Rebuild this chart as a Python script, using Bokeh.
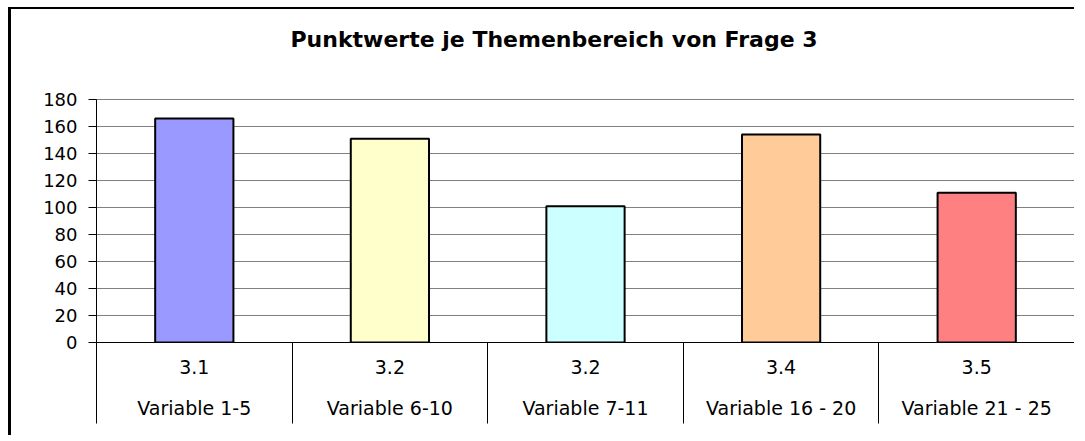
import numpy as np
from bokeh.plotting import figure
from bokeh.models import Range1d, LinearAxis, FixedTicker, ColumnDataSource, Title
from bokeh.embed import file_html
from bokeh.resources import INLINE

title_text = "Punktwerte je Themenbereich von Frage 3"
codes = ["3.1", "3.2", "3.2", "3.4", "3.5"]
variables = ["Variable 1-5", "Variable 6-10", "Variable 7-11", "Variable 16 - 20", "Variable 21 - 25"]
values = [166, 151, 101, 154, 111]
colors = ["#9999FF", "#FFFFCC", "#CCFFFF", "#FFCC99", "#FF8080"]
y_ticks = [0, 20, 40, 60, 80, 100, 120, 140, 160, 180]

n = len(values)
centers = [int(c) for c in np.arange(1, n + 1)]
bounds = [float(b) for b in np.arange(n + 1) + 0.5]
src = ColumnDataSource(dict(x=centers, top=values, color=colors))

FONT = "DejaVu Sans"

p = figure(width=1066, height=428, output_backend="svg", toolbar_location=None,
           x_range=Range1d(0.5, n + 0.5), y_range=Range1d(0, 180),
           x_axis_type=None,
           min_border_left=85, min_border_right=3, min_border_top=90, min_border_bottom=95)
p.background_fill_color = "white"
p.border_fill_color = "white"
p.outline_line_color = "#808080"
p.outline_line_width = 1
p.styles = {"border-left": "3px solid black", "border-top": "2px solid black",
            "margin-left": "8px", "margin-top": "7px"}

# invisible spacer between title and plot area (added first: nearest the plot)
mid = centers[len(centers) // 2]
spacer = LinearAxis(ticker=FixedTicker(ticks=[mid]), major_label_overrides={mid: ""})
spacer.axis_line_color = None
spacer.major_tick_line_color = "white"
spacer.major_tick_line_alpha = 0.01
spacer.minor_tick_line_color = None
spacer.major_tick_out = 43
spacer.major_tick_in = 0
spacer.minor_tick_out = 0
spacer.minor_tick_in = 0
spacer.major_label_standoff = 0
spacer.major_label_text_font_size = "0px"
p.add_layout(spacer, "above")

# title
title = Title(text=title_text, text_font=FONT, text_font_size="22px",
              text_font_style="bold", text_color="black",
              align="left", offset=194, standoff=10)
p.add_layout(title, "above")

# y axis
ya = p.yaxis[0]
ya.ticker = FixedTicker(ticks=y_ticks)
ya.axis_line_color = "black"
ya.axis_line_width = 1
ya.major_tick_line_color = "black"
ya.major_tick_out = 8
ya.major_tick_in = 0
ya.minor_tick_line_color = None
ya.major_label_standoff = 11
ya.major_label_text_font = FONT
ya.major_label_text_font_size = "18px"
ya.major_label_text_color = "black"

p.ygrid[0].grid_line_color = "#808080"
p.ygrid[0].grid_line_width = 1

# category table axes
ax1 = LinearAxis(ticker=FixedTicker(ticks=centers, minor_ticks=bounds),
                 major_label_overrides={c: t for c, t in zip(centers, codes)})
ax1.axis_line_color = "black"
ax1.major_tick_line_color = None
ax1.major_tick_out = 0
ax1.major_tick_in = 0
ax1.minor_tick_line_color = "black"
ax1.minor_tick_out = 81
ax1.minor_tick_in = 0
ax1.major_label_standoff = -64
ax1.major_label_text_font = FONT
ax1.major_label_text_font_size = "19px"
ax1.major_label_text_color = "black"

ax2 = LinearAxis(ticker=FixedTicker(ticks=centers),
                 major_label_overrides={c: v for c, v in zip(centers, variables)})
ax2.axis_line_color = None
ax2.major_tick_line_color = None
ax2.major_tick_out = 0
ax2.major_tick_in = 0
ax2.minor_tick_line_color = None
ax2.major_label_standoff = 20
ax2.major_label_text_font = FONT
ax2.major_label_text_font_size = "19px"
ax2.major_label_text_color = "black"

p.add_layout(ax1, "below")
p.add_layout(ax2, "below")

p.vbar(x="x", top="top", bottom=0, width=0.4, fill_color="color",
       line_color="black", line_width=2, source=src)

open("out.html", "w").write(file_html(p, INLINE))
